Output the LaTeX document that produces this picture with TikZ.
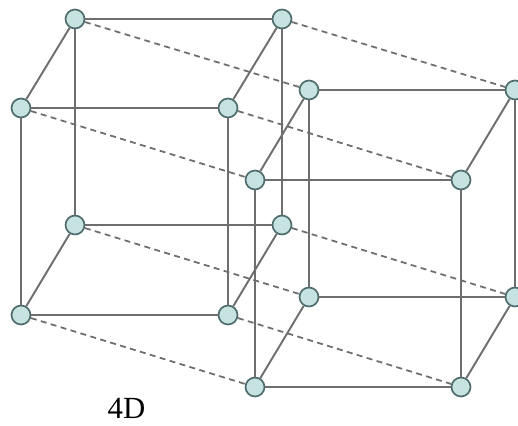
\documentclass[tikz,border=0pt]{standalone}
\usepackage{fontspec}
\setmainfont{Liberation Serif}
\usetikzlibrary{positioning}
\definecolor{vertexfill}{HTML}{C6E3E1}
\definecolor{vertexline}{HTML}{4E6C6C}
\definecolor{edgeline}{HTML}{6E6E6E}
\begin{document}
\begin{tikzpicture}[
  on grid,
  vertex/.style={circle,draw=vertexline,fill=vertexfill,line width=0.95pt,
    minimum size=0.38cm,inner sep=0pt},
  edge/.style={draw=edgeline,line width=1.1pt},
  link/.style={draw=edgeline,line width=1pt,dash pattern=on 3.4pt off 2.5pt}
]
\useasboundingbox (0,0) rectangle (10.36,-8.52);
% left cube
\node[vertex] (Abt) at (1.5,-0.38) {};
\node[vertex, right=4.14cm of Abt] (Acr) {};
\node[vertex, below=4.12cm of Abt] (Abl) {};
\node[vertex, right=4.14cm of Abl] (Abr) {};
\node[vertex, below left=1.78cm and 1.08cm of Abt] (Aft) {};
\node[vertex, right=4.14cm of Aft] (Afr) {};
\node[vertex, below=4.14cm of Aft] (Afl) {};
\node[vertex, right=4.14cm of Afl] (Afb) {};
% right cube
\node[vertex, below right=1.44cm and 4.68cm of Aft] (Bft) {};
\node[vertex, right=4.12cm of Bft] (Bfr) {};
\node[vertex, below=4.14cm of Bft] (Bfl) {};
\node[vertex, right=4.12cm of Bfl] (Bfb) {};
\node[vertex, above right=1.8cm and 1.08cm of Bft] (Bbt) {};
\node[vertex, right=4.12cm of Bbt] (Bcr) {};
\node[vertex, below=4.14cm of Bbt] (Bbl) {};
\node[vertex, right=4.12cm of Bbl] (Bbr) {};
\draw[edge] (Abt)--(Acr);
\draw[edge] (Abt)--(Abl);
\draw[edge] (Acr)--(Abr);
\draw[edge] (Abl)--(Abr);
\draw[edge] (Aft)--(Afr);
\draw[edge] (Aft)--(Afl);
\draw[edge] (Afr)--(Afb);
\draw[edge] (Afl)--(Afb);
\draw[edge] (Abt)--(Aft);
\draw[edge] (Acr)--(Afr);
\draw[edge] (Abl)--(Afl);
\draw[edge] (Abr)--(Afb);
\draw[edge] (Bbt)--(Bcr);
\draw[edge] (Bbt)--(Bbl);
\draw[edge] (Bcr)--(Bbr);
\draw[edge] (Bbl)--(Bbr);
\draw[edge] (Bft)--(Bfr);
\draw[edge] (Bft)--(Bfl);
\draw[edge] (Bfr)--(Bfb);
\draw[edge] (Bfl)--(Bfb);
\draw[edge] (Bbt)--(Bft);
\draw[edge] (Bcr)--(Bfr);
\draw[edge] (Bbl)--(Bfl);
\draw[edge] (Bbr)--(Bfb);
% links between the cubes
\draw[link] (Abt)--(Bbt);
\draw[link] (Acr)--(Bcr);
\draw[link] (Abl)--(Bbl);
\draw[link] (Abr)--(Bbr);
\draw[link] (Aft)--(Bft);
\draw[link] (Afr)--(Bfr);
\draw[link] (Afl)--(Bfl);
\draw[link] (Afb)--(Bfb);
\node[font=\fontsize{17.5}{20}\selectfont,inner sep=0pt] (title) at (2.53,-8.16) {4D};
\end{tikzpicture}
\end{document}
